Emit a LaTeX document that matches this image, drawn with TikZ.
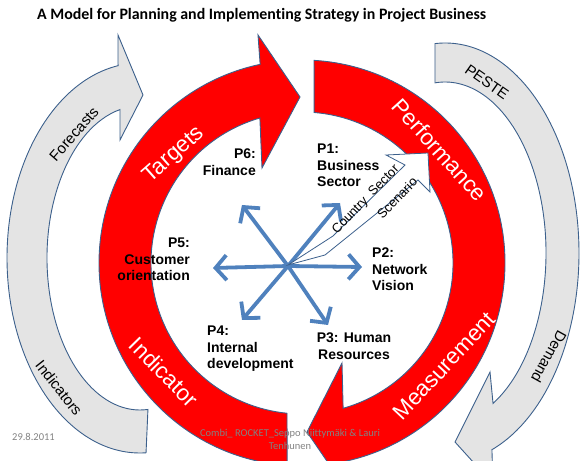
\documentclass[tikz,border=0pt]{standalone}
\usepackage{fontspec}
\setmainfont{Liberation Sans}
\newfontfamily\calibfont[Ligatures=NoCommon]{Carlito}
\usetikzlibrary{arrows.meta}
\definecolor{ringred}{RGB}{255,0,0}
\definecolor{edgeblue}{RGB}{60,96,140}
\definecolor{graybody}{RGB}{228,228,228}
\definecolor{starblue}{RGB}{79,129,189}
\definecolor{footgray}{RGB}{130,130,130}
\begin{document}
\begin{tikzpicture}[x=1pt,y=1pt,
  redarrow/.style={fill=ringred, draw=edgeblue, line width=0.9pt},
  grayarrow/.style={fill=graybody, draw=edgeblue, line width=0.9pt},
  whitearrow/.style={fill=white, draw=edgeblue, line width=0.8pt},
  ringlabel/.style={text=white, font=\fontsize{22.5}{24}\selectfont, inner sep=0pt},
  graylabel/.style={text=black, font=\fontsize{15}{17}\selectfont, inner sep=0pt},
  plabel/.style={font=\bfseries\fontsize{14}{16.5}\selectfont, inner sep=0pt},
  scenlabel/.style={rotate=46, inner sep=0pt, font=\fontsize{13}{15}\selectfont},
  spoke/.style={draw=starblue, line width=3.8pt, -{Straight Barb[length=11pt,width=25pt]}},
  foot/.style={text=footgray, font=\calibfont\fontsize{10.5}{13}\selectfont, inner sep=0pt}
]
\useasboundingbox (0,0) rectangle (580,460);
\clip (0,0) rectangle (580,460);

% gray outer arrows (elliptic bands)
\begin{scope}[shift={(140,202)}]
\draw[grayarrow] (272.6:133pt and 195pt)
  arc[start angle=272.6, end angle=99.5, x radius=133pt, y radius=195pt]
  -- (-22,223) -- (3,163) -- (-20,118) -- (102.4:93pt and 152pt)
  arc[start angle=102.4, end angle=274.9, x radius=93pt, y radius=152pt] -- cycle;
\end{scope}
\begin{scope}[shift={(445,207)}]
\draw[grayarrow] (94.3:134pt and 210pt)
  arc[start angle=94.3, end angle=-69.5, x radius=134pt, y radius=210pt]
  -- (48,-231) -- (10,-189) -- (45,-119) -- (-61.6:101pt and 171pt)
  arc[start angle=-61.6, end angle=95.7, x radius=101pt, y radius=171pt] -- cycle;
\end{scope}

% red ring arrows
\begin{scope}[shift={(302,197)}]
\draw[redarrow] (265.8:203pt) arc[start angle=265.8, end angle=101.9, radius=203pt]
  -- (-44,228) -- (-2,166) -- (-40,95) -- (106.2:151pt)
  arc[start angle=106.2, end angle=264.3, radius=151pt] -- cycle;
\draw[redarrow] (86.6:203pt) arc[start angle=86.6, end angle=-78.3, radius=203pt]
  -- (44,-226) -- (5,-169) -- (40,-100) -- (-74.2:151pt)
  arc[start angle=-74.2, end angle=85.4, radius=151pt] -- cycle;
\end{scope}

% ring labels
\node[ringlabel, rotate=41.6] (targets) at (174,305) {Targets};
\node[ringlabel, rotate=-48] (perf) at (440,310) {Performance};
\node[ringlabel, rotate=46.8] (meas) at (444,94) {Measurement};
\node[ringlabel, rotate=-45.4] (indic) at (164,88) {Indicator};

% gray labels
\node[graylabel, rotate=48.9] (fore) at (74,326) {Forecasts};
\node[graylabel, rotate=-51.7] (indics) at (59,72) {Indicators};
\node[graylabel, rotate=-35] (peste) at (487,378) {PESTE};
\node[graylabel, rotate=-119] (demand) at (549,103) {Demand};

% blue star
\coordinate (hub) at (288,194);
\coordinate (t6) at (242,255);
\coordinate (t1) at (340,257);
\coordinate (t5) at (213,192);
\coordinate (t2) at (362,193);
\coordinate (t4) at (242,140);
\coordinate (t3) at (328,135);
\foreach \t in {t1,t2,t3,t4,t5,t6} \draw[spoke] (hub) -- (\t);

% white scenario arrow
\coordinate (w0) at (288,195);
\coordinate (w1) at (325,205);
\coordinate (w2) at (418,280);
\coordinate (w3) at (430,268);
\coordinate (w4) at (428,307);
\coordinate (w5) at (386,305);
\coordinate (w6) at (405,295);
\coordinate (w7) at (333,224);
\draw[whitearrow] (w0) -- (w1) -- (w2) -- (w3) -- (w4) -- (w5) -- (w6) -- (w7) -- cycle;
\node[scenlabel] (cs) at (366,260) {Country\hspace{7pt}Sector};
\node[scenlabel] (sc) at (397,262) {Scenario};

% P labels
\node[plabel, anchor=north east, align=right] (p6) at (256,311) {P6:\\Finance};
\node[plabel, anchor=north west, align=left] (p1) at (317,316) {P1:\\Business\\Sector};
\node[plabel, anchor=north east, align=right] (p5) at (190,222) {P5:\\Customer\\orientation};
\node[plabel, anchor=north west, align=left] (p2) at (372,212) {P2:\\Network\\Vision};
\node[plabel, anchor=north, align=center] (p3) at (354,127) {P3: Human\\Resources};
\node[plabel, anchor=north west, align=left] (p4) at (207,134) {P4:\\Internal\\development};

% footer
\node[foot, anchor=west] (date) at (12,23) {29.8.2011};
\node[foot, align=center] (author) at (290,21) {Combi\_ ROCKET\_Seppo Niittymäki \& Lauri\\Tenhunen};

% title
\node[anchor=west, inner sep=0pt, font=\calibfont\bfseries\fontsize{15.9}{18}\selectfont] (title) at (37,445) {A Model for Planning and Implementing Strategy in Project Business};
\end{tikzpicture}
\end{document}
